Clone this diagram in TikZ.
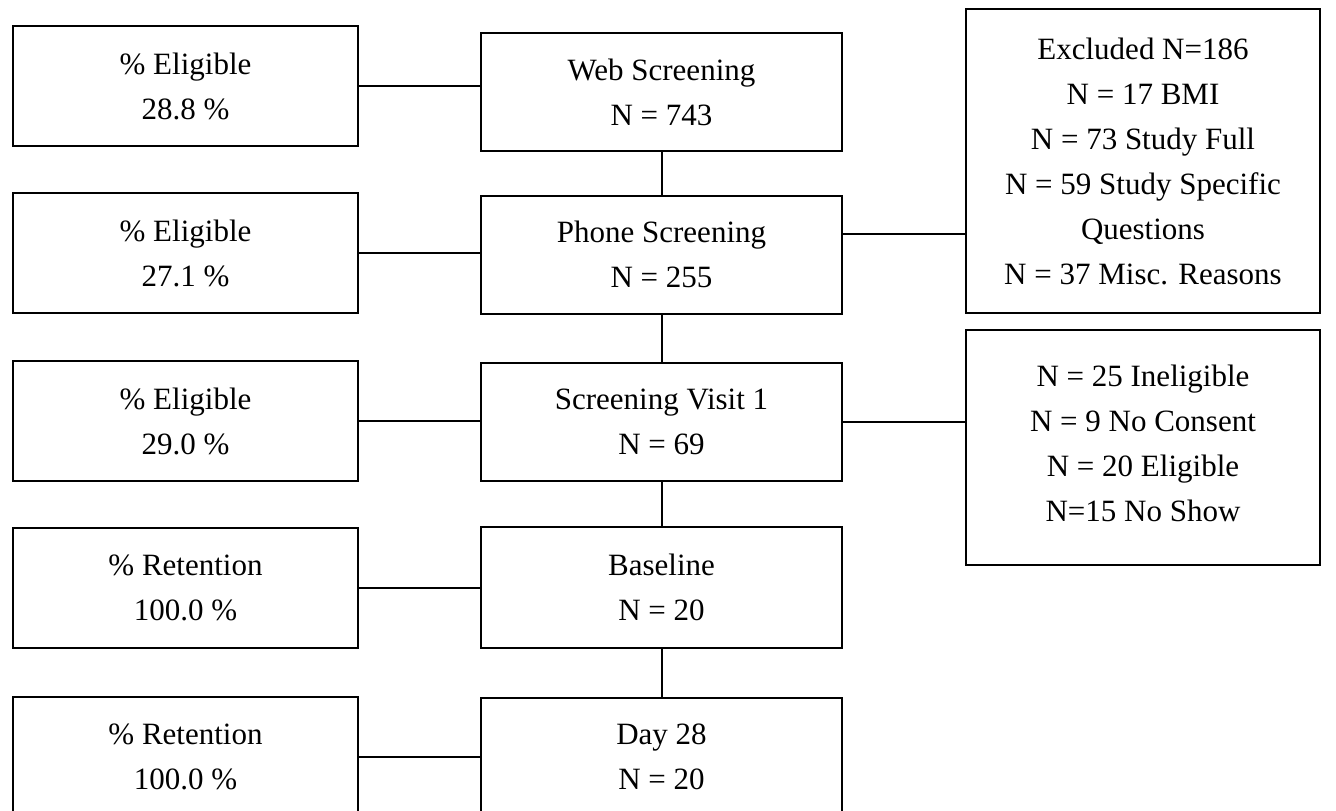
\documentclass[tikz,border=0pt]{standalone}
\usepackage{fontspec}
\setmainfont{Liberation Serif}
\begin{document}
\begin{tikzpicture}[x=1pt,y=-1pt,
  box/.style={draw, line width=2pt, inner sep=0pt, align=center,
    font=\fontsize{31}{45}\selectfont},
  lbox/.style={box, minimum width=345pt, minimum height=120pt},
  cbox/.style={box, minimum width=361pt, minimum height=118pt},
  link/.style={line width=2pt}]
\useasboundingbox (0,0) rectangle (1336,811);
\fill[white] (0,0) rectangle (1336,811);
% left column
\node[lbox] (l1) at (185.5,86) {\% Eligible\\28.8 \%};
\node[lbox] (l2) at (185.5,253) {\% Eligible\\27.1 \%};
\node[lbox] (l3) at (185.5,421) {\% Eligible\\29.0 \%};
\node[lbox] (l4) at (185.5,587.5) {\% Retention\\100.0 \%};
\node[lbox] (l5) at (185.5,757) {\% Retention\\100.0 \%};
% centre column
\node[cbox] (web) at (661.5,92) {Web Screening\\N = 743};
\node[cbox] (phone) at (661.5,254.5) {Phone Screening\\N = 255};
\node[cbox] (sv1) at (661.5,421.5) {Screening Visit 1\\N = 69};
\node[cbox, minimum height=121pt] (base) at (661.5,587.5) {Baseline\\N = 20};
\node[cbox] (day) at (661.5,757) {Day 28\\N = 20};
% right column
\node[box, minimum width=354pt, minimum height=304pt] (excl) at (1143,161)
  {Excluded N=186\\N = 17 BMI\\N = 73 Study Full\\N = 59 Study Specific\\Questions\\N = 37 Misc. Reasons};
\node[box, minimum width=354pt, minimum height=235pt] (inel) at (1143,447.5) {};
\node[align=center, inner sep=0pt, font=\fontsize{31}{45}\selectfont] (inelt) at (1143,443)
  {N = 25 Ineligible\\N = 9 No Consent\\N = 20 Eligible\\N=15 No Show};
% connectors
\draw[link] (l1.east) -- (l1.east -| web.west);
\draw[link] (l2.east) -- (l2.east -| phone.west);
\draw[link] (l3.east) -- (l3.east -| sv1.west);
\draw[link] (l4.east) -- (l4.east -| base.west);
\draw[link] (l5.east) -- (l5.east -| day.west);
\draw[link] (web.south) -- (phone.north);
\draw[link] (phone.south) -- (sv1.north);
\draw[link] (sv1.south) -- (base.north);
\draw[link] (base.south) -- (day.north);
\draw[link] ([yshift=21pt]phone.east) -- ([yshift=21pt]phone.east -| excl.west);
\draw[link] (sv1.east) -- (sv1.east -| inel.west);
\end{tikzpicture}
\end{document}
